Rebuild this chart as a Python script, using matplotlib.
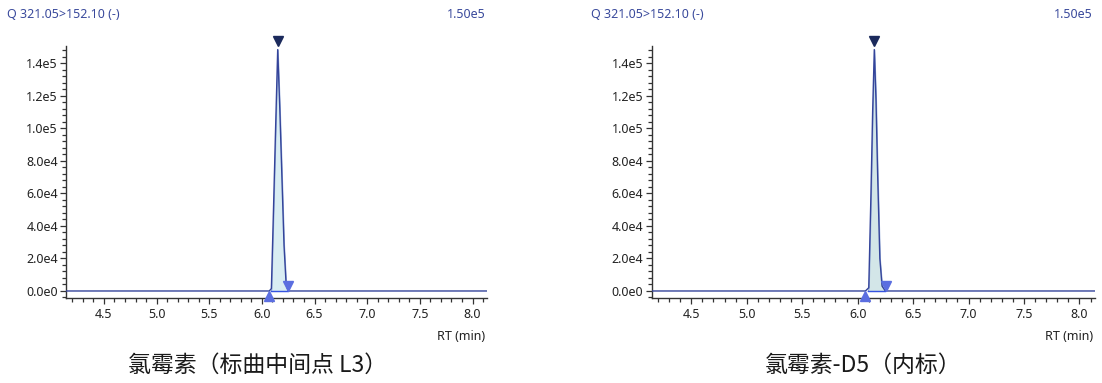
import matplotlib
matplotlib.use("Agg")
import matplotlib.pyplot as plt
from matplotlib.ticker import MultipleLocator, FuncFormatter

plt.rcParams["font.family"] = ["Noto Sans", "Noto Sans CJK SC", "DejaVu Sans"]

# chromatogram traces (RT in min, intensity in counts)
LEFT_RT = [4.14, 6.07, 6.09, 6.11, 6.13, 6.15, 6.17, 6.19, 6.21, 6.23, 6.25, 8.14]
LEFT_INT = [0, 0, 1500, 50000, 100000, 148500, 112000, 70000, 28000, 4000, 0, 0]
RIGHT_RT = [4.14, 6.07, 6.10, 6.12, 6.135, 6.15, 6.165, 6.18, 6.20, 6.22, 6.25, 8.14]
RIGHT_INT = [0, 0, 2000, 60000, 110000, 148500, 118000, 72000, 20000, 3000, 0, 0]

# integration markers: start, apex, end
LEFT_PEAK = {"start": (6.07, -3100), "apex": (6.15, 153500), "end": (6.25, 3100),
             "base": (6.085, 6.245)}
RIGHT_PEAK = {"start": (6.065, -3100), "apex": (6.15, 153500), "end": (6.255, 3100),
              "base": (6.09, 6.25)}

TITLES = ["氯霉素（标曲中间点 L3）", "氯霉素-D5（内标）"]
HEADER = "Q 321.05>152.10 (-)"
SCALE = "1.50e5"

XLIM = (4.143, 8.14)
YLIM = (-4500, 150700)

HDR_COL = "#3a4a9c"
TRACE_COL = "#34449a"
DARK_MK = "#1b2a5c"
MK_COL = "#5b6ee0"


def sci_fmt(v, pos):
    if abs(v) < 1e-9:
        return "0.0e0"
    s = f"{v:.1e}"
    m, e = s.split("e")
    return f"{m}e{int(e)}"


W, H = 1102, 383
fig = plt.figure(figsize=(W / 100, H / 100), dpi=100)

boxes = [(66.3, 487.3), (651.7, 1095.0)]
top_px, bot_px = 46.0, 298.3
panels = [(LEFT_RT, LEFT_INT, LEFT_PEAK, "#d9edf3"),
          (RIGHT_RT, RIGHT_INT, RIGHT_PEAK, "#d3e6e8")]
title_x = [257.5, 863.0]

for i, ((x0, x1), (rt, inten, pk, fill_col)) in enumerate(zip(boxes, panels)):
    ax = fig.add_axes([x0 / W, 1 - bot_px / H, (x1 - x0) / W, (bot_px - top_px) / H])
    ax.set_xlim(*XLIM)
    ax.set_ylim(*YLIM)

    # peak fill above integration baseline
    b0, b1 = pk["base"]
    fx = [b0] + [r for r in rt if b0 < r < b1] + [b1]
    fy = [0] + [v for r, v in zip(rt, inten) if b0 < r < b1] + [0]
    ax.fill_between(fx, fy, 0, color=fill_col, edgecolor="#93a9d8", linewidth=0.8, zorder=2)
    ax.plot(rt, inten, color=TRACE_COL, linewidth=1.0, zorder=3)
    ax.plot([b0, b1], [0, 0], color="#3452e0", linewidth=1.0, zorder=4)

    ax.plot(*pk["apex"], marker="v", color=DARK_MK, markersize=6.5, clip_on=False, zorder=5)
    ax.plot(*pk["start"], marker="^", color=MK_COL, markersize=7, clip_on=False, zorder=5)
    ax.plot(*pk["end"], marker="v", color=MK_COL, markersize=7, clip_on=False, zorder=5)

    for s in ["top", "right"]:
        ax.spines[s].set_visible(False)
    for s in ["left", "bottom"]:
        ax.spines[s].set_color("#333333")
        ax.spines[s].set_linewidth(1.0)

    ax.xaxis.set_major_locator(MultipleLocator(0.5))
    ax.xaxis.set_minor_locator(MultipleLocator(0.1))
    ax.yaxis.set_major_locator(MultipleLocator(20000))
    ax.yaxis.set_minor_locator(MultipleLocator(4000))
    ax.yaxis.set_major_formatter(FuncFormatter(sci_fmt))
    ax.xaxis.set_major_formatter(FuncFormatter(lambda v, p: f"{v:.1f}"))

    ax.tick_params(which="major", length=4.5, width=0.9, color="#333333",
                   labelsize=9, labelcolor="#222222")
    ax.tick_params(which="minor", length=2.8, width=0.9, color="#333333")
    ax.tick_params(axis="x", which="major", pad=2.5)
    ax.tick_params(axis="y", which="major", pad=1.5)

    # header texts and axis label
    hx = 7 if i == 0 else 591
    fig.text(hx / W, 1 - 15 / H, HEADER, ha="left", va="center", fontsize=9, color=HDR_COL)
    fig.text((x1 - 2) / W, 1 - 15 / H, SCALE, ha="right", va="center", fontsize=9, color=HDR_COL)
    fig.text((x1 - 2) / W, 1 - 336 / H, "RT (min)", ha="right", va="center",
             fontsize=9, color="#222222")
    fig.text(title_x[i] / W, 1 - 365 / H, TITLES[i], ha="center", va="center",
             fontsize=16.5, color="#1a1a1a", family=["Noto Sans CJK SC", "DejaVu Sans"])

fig.savefig("out.png", dpi=100)
